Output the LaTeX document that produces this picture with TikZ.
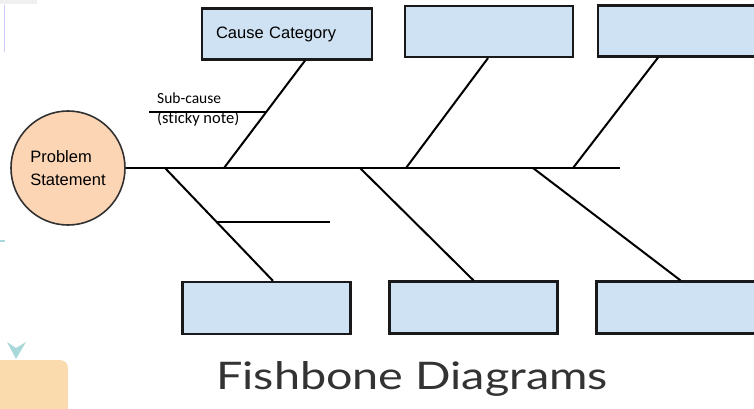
\documentclass[tikz,border=0pt]{standalone}
\usepackage{fontspec}
\setmainfont{Liberation Sans}
\newfontfamily\notefont[Ligatures=NoCommon]{Carlito}
\newfontfamily\titlefont[FakeStretch=1.23]{Lato}
\definecolor{catblue}{HTML}{CFE2F3}
\definecolor{headpeach}{HTML}{FCD5B5}
\definecolor{slidetan}{HTML}{F9DBAE}
\definecolor{slideteal}{HTML}{A8D8DA}
\tikzset{
  catbox/.style={draw=black!90,line width=2.2pt,fill=catblue,minimum width=168pt,minimum height=51pt,inner sep=0pt,font=\fontsize{16.5}{20}\selectfont},
  probhead/.style={circle,draw=black!80,line width=1.6pt,fill=headpeach,minimum size=114pt,inner sep=0pt,align=left,font=\fontsize{16.5}{23}\selectfont},
  bone/.style={line width=2pt,black},
  notetext/.style={anchor=base west,inner sep=0pt,font=\notefont\fontsize{15.5}{18}\selectfont},
}
\begin{document}
\begin{tikzpicture}[x=1pt,y=-1pt]
\useasboundingbox (0,0) rectangle (754,409);
\clip (0,0) rectangle (754,409);
\fill[black!6] (0,0) rectangle (37,4);
\draw[blue!20,line width=1pt] (4,5) -- (4,52);
\draw[slideteal,line width=2pt] (0,241) -- (5,241);
\fill[slidetan,rounded corners=8pt] (-10,360) rectangle (68,420);
\fill[slideteal] (7,342) -- (16,348) -- (26,342) -- (16,359) -- cycle;
\node[probhead] (head) at (68,168) {Problem\\Statement};
\coordinate (tail) at (620,168);
\draw[bone] (head.east) -- (tail);
\node[catbox,minimum width=170pt,text width=142pt,align=left] (cat1) at (287,34) {Cause Category};
\node[catbox] (cat2) at (489,31.5) {};
\node[catbox] (cat3) at (682,31) {};
\node[catbox,minimum height=52pt] (cat4) at (266.5,308) {};
\node[catbox,minimum height=52pt] (cat5) at (473.5,307.5) {};
\node[catbox,minimum height=52pt] (cat6) at (680.5,307.5) {};
\coordinate (j1) at (224,168);
\coordinate (j2) at (406,168);
\coordinate (j3) at (573,168);
\coordinate (k1) at (165,168);
\coordinate (k2) at (360,168);
\coordinate (k3) at (533,168);
\draw[bone] (j1) -- coordinate[pos=0.52] (s1) ([xshift=18pt]cat1.south);
\draw[bone] (j2) -- ([xshift=-1pt]cat2.south);
\draw[bone] (j3) -- ([xshift=-24pt]cat3.south);
\draw[bone] (k1) -- coordinate[pos=0.474] (s2) ([xshift=6.5pt]cat4.north);
\draw[bone] (k2) -- (cat5.north);
\draw[bone] (k3) -- (cat6.north);
\coordinate (n1) at (149,0);
\coordinate (n2) at (330,0);
\draw[bone] (s1 -| n1) -- (s1);
\draw[bone] (s2) -- (s2 -| n2);
\node[notetext] (sub) at (157,103) {Sub-cause};
\node[notetext,font=\notefont\fontsize{16.5}{18}\selectfont] (stk) at (157,124) {(sticky note)};
\node[anchor=base,inner sep=0pt,text=black!80,font=\titlefont\fontsize{38}{42}\selectfont] (title) at (412,389) {Fishbone Diagrams};
\end{tikzpicture}
\end{document}
